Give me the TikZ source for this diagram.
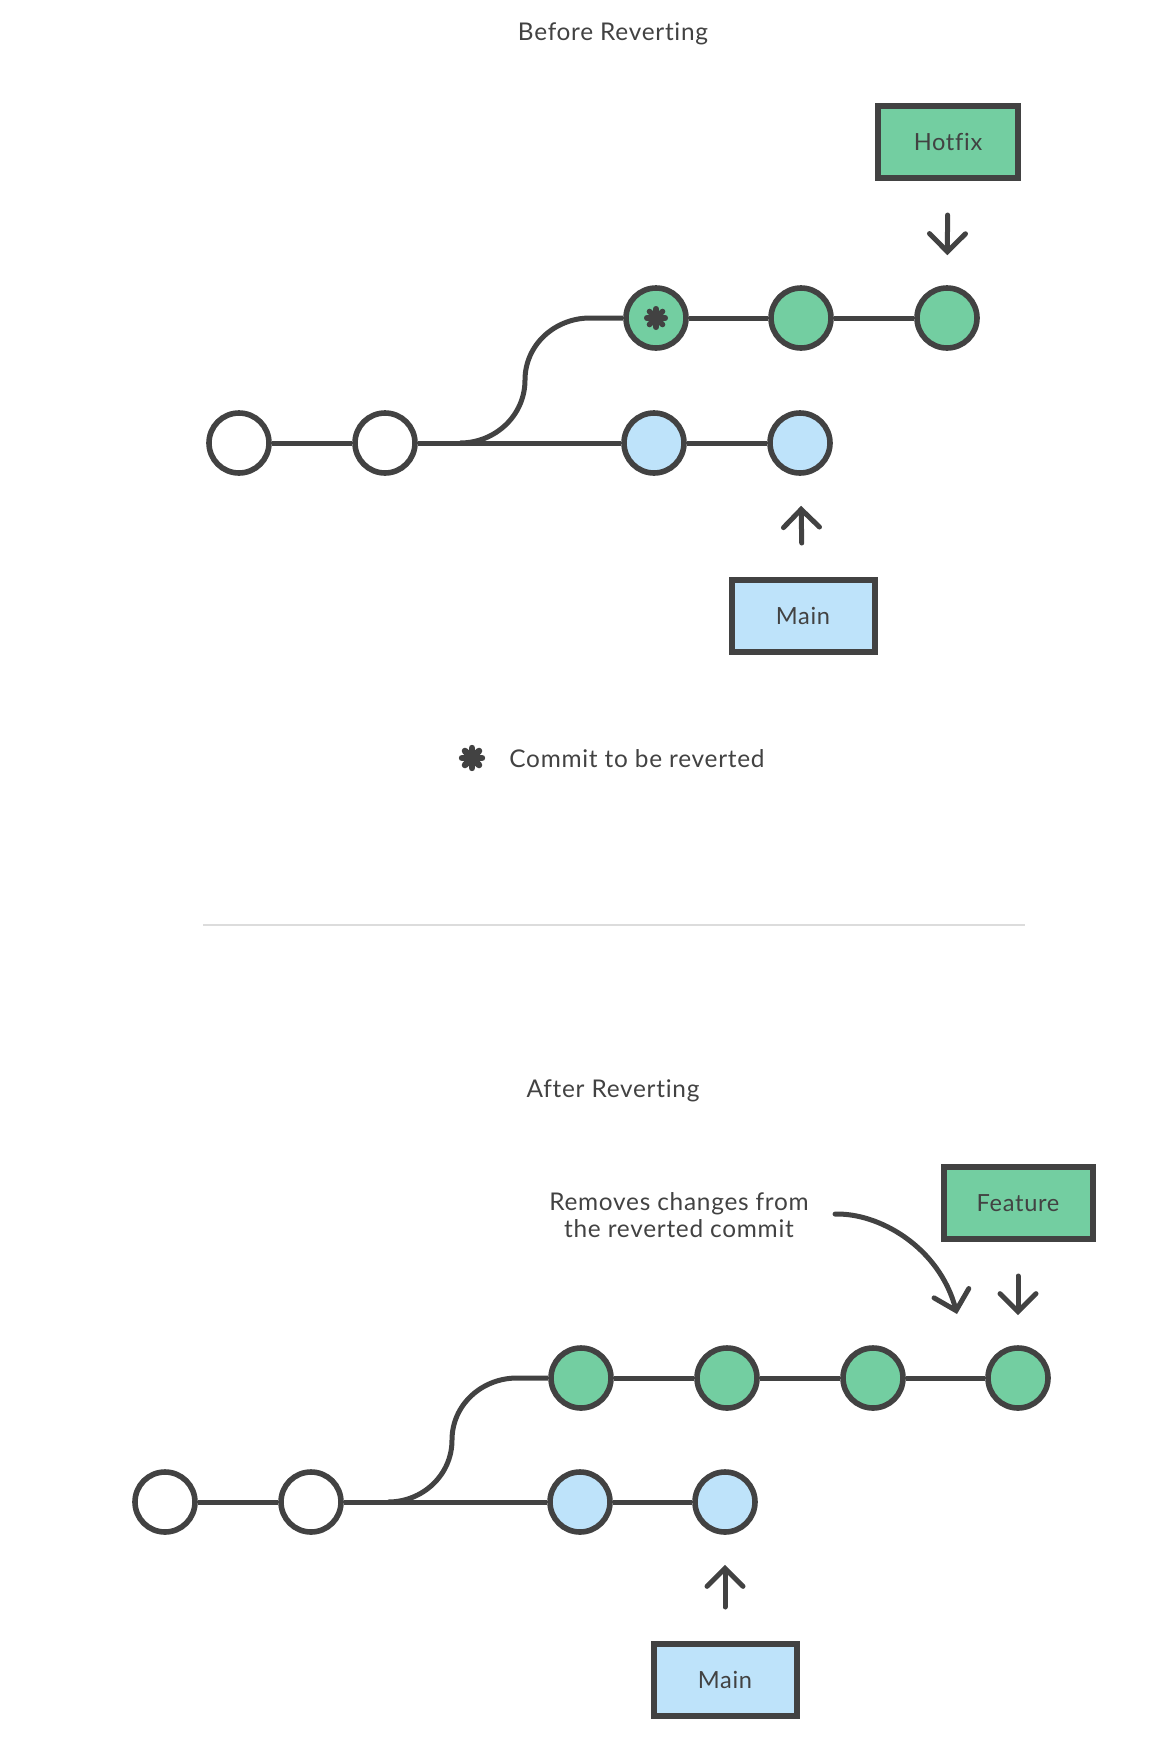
\documentclass[tikz,border=0pt]{standalone}
\usepackage{fontspec}
\setmainfont[LetterSpace=3, Ligatures=NoCommon]{Lato}
\usetikzlibrary{arrows.meta,positioning}
\definecolor{ink}{HTML}{424242}
\definecolor{hotgreen}{HTML}{73CEA1}
\definecolor{mainblue}{HTML}{BEE3FA}
\definecolor{rulegray}{HTML}{DCDCDC}

\tikzset{
  commit/.style={circle, draw=ink, line width=2.8pt, minimum size=30pt, inner sep=0pt},
  branchbox/.style={rectangle, draw=ink, line width=3pt, minimum height=36pt,
    inner sep=0pt, font=\fontsize{11.8}{14}\selectfont, text=ink},
  edge/.style={draw=ink, line width=2.5pt},
  pointer/.style={draw=ink, line width=2.5pt, line cap=round, shorten <=17pt, shorten >=15pt,
    -{Straight Barb[length=9pt, width=18pt, line cap=round]}},
  caption/.style={font=\fontsize{12.2}{13.5}\selectfont, text=ink, inner sep=0pt},
}
% asterisk marking the commit to revert: centre, arm length, arm width
\newcommand{\revmark}[3]{%
  \foreach \a in {0,45,90,135}
    \draw[ink, line width=#3, line cap=round] (#1) ++(\a:#2) -- ++(\a+180:2*#2);
}

\begin{document}
\begin{tikzpicture}[x=0.5pt, y=-0.5pt]
  \useasboundingbox (0,0) rectangle (1174,1762);

  % ---------- Before reverting ----------
  \node[caption] (titlebefore) at (613,34) {Before Reverting};

  % Branch labels
  \node[branchbox, fill=hotgreen, minimum width=70pt] (hotfix) at (948,142) {Hotfix};
  \node[branchbox, fill=mainblue, minimum width=71.5pt] (mainbefore) at (803,616) {Main};

  % Commits
  \node[commit, fill=white]    (a1) at (239,443) {};
  \node[commit, fill=white]    (a2) at (385,443) {};
  \node[commit, fill=mainblue] (a3) at (654,443) {};
  \node[commit, fill=mainblue] (a4) at (800,443) {};
  \node[commit, fill=hotgreen] (h1) at (656,318) {};
  \node[commit, fill=hotgreen] (h2) at (801,318) {};
  \node[commit, fill=hotgreen] (h3) at (947,318) {};
  \coordinate (forkbefore) at (460,443);
  \coordinate (bendbefore) at (525,380);
  \coordinate (topbefore) at (590,318);

  % History
  \draw[edge] (a1) -- (a2) (a2) -- (a3) (a3) -- (a4);
  \draw[edge] (h1) -- (h2) (h2) -- (h3);
  \draw[edge] (forkbefore) to[out=0, in=-90] (bendbefore)
    to[out=90, in=180] (topbefore) -- (h1);
  \revmark{h1}{4.6pt}{2.8pt}

  % Pointers
  \draw[pointer] (hotfix) -- (h3);
  \draw[pointer] (mainbefore) -- (a4);

  % Legend
  \coordinate (legendmark) at (472,758);
  \revmark{legendmark}{5pt}{3.2pt}
  \node[caption, anchor=west] (legend) at (509,759) {Commit to be reverted};

  % Separator
  \coordinate (sepleft) at (203,925);
  \coordinate (sepright) at (1025,925);
  \draw[rulegray, line width=0.6pt] (sepleft) -- (sepright);

  % ---------- After reverting ----------
  \node[caption] (titleafter) at (613,1091) {After Reverting};

  % Branch labels
  \node[branchbox, fill=hotgreen, minimum width=74.5pt] (feature) at (1018,1203) {Feature};
  \node[branchbox, fill=mainblue, minimum width=71.5pt] (mainafter) at (725,1680) {Main};
  \node[caption, align=center] (note) at (679,1215) {Removes changes from\\the reverted commit};

  % Commits
  \node[commit, fill=white]    (b1) at (165,1502) {};
  \node[commit, fill=white]    (b2) at (311,1502) {};
  \node[commit, fill=mainblue] (b3) at (580,1502) {};
  \node[commit, fill=mainblue] (b4) at (725,1502) {};
  \node[commit, fill=hotgreen] (f1) at (581,1378) {};
  \node[commit, fill=hotgreen] (f2) at (727,1378) {};
  \node[commit, fill=hotgreen] (f3) at (873,1378) {};
  \node[commit, fill=hotgreen] (f4) at (1018,1378) {};
  \coordinate (forkafter) at (388,1502);
  \coordinate (bendafter) at (452,1440);
  \coordinate (topafter) at (517,1378);

  % History
  \draw[edge] (b1) -- (b2) (b2) -- (b3) (b3) -- (b4);
  \draw[edge] (f1) -- (f2) (f2) -- (f3) (f3) -- (f4);
  \draw[edge] (forkafter) to[out=0, in=-90] (bendafter)
    to[out=90, in=180] (topafter) -- (f1);

  % Pointers
  \draw[pointer] (feature) -- (f4);
  \draw[pointer] (mainafter) -- (b4);
  \coordinate (notetip) at (957,1314);
  \draw[pointer, shorten <=13pt, shorten >=0pt] (note.east) to[out=2, in=105] (notetip);
\end{tikzpicture}
\end{document}
